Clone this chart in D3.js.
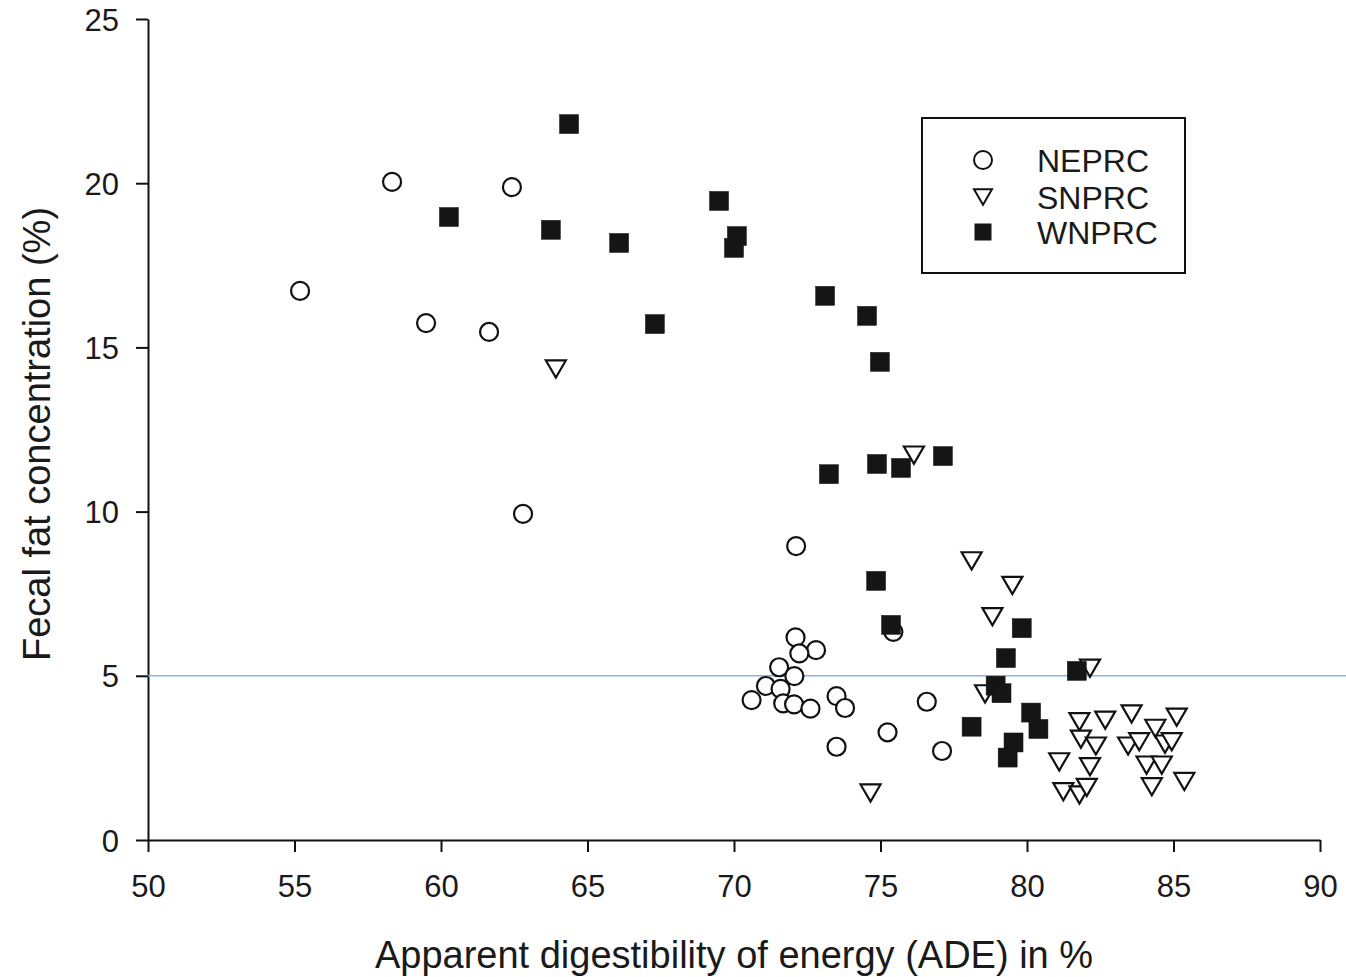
<!DOCTYPE html>
<html><head><meta charset="utf-8">
<script src="https://cdn.jsdelivr.net/npm/d3@7"></script>
<style>body{margin:0;background:#fff}text{font-family:"Liberation Sans",Arial,sans-serif;fill:#1a1a1a}</style>
</head><body><svg id="c" width="1346" height="977"></svg>
<script>
const neprcX=[55.19,58.33,59.49,61.64,62.42,62.80,72.12,72.10,72.80,72.23,71.54,72.06,71.09,71.59,70.60,71.68,72.05,72.61,73.50,73.79,73.50,75.24,76.58,77.10,75.44];
const neprcY=[16.72,20.04,15.74,15.47,19.88,9.93,8.95,6.17,5.78,5.68,5.26,4.99,4.69,4.60,4.26,4.16,4.13,4.00,4.38,4.02,2.84,3.28,4.21,2.71,6.34];
const snprcX=[63.92,76.14,74.66,78.11,79.50,78.82,78.57,82.15,81.79,82.67,83.57,85.11,84.38,81.84,82.35,83.45,83.83,84.71,84.94,81.10,82.15,84.08,84.60,81.24,81.79,82.04,84.26,85.37];
const snprcY=[14.34,11.72,1.43,8.50,7.75,6.80,4.45,5.23,3.60,3.65,3.84,3.74,3.40,3.07,2.86,2.86,2.99,2.92,2.99,2.38,2.23,2.28,2.28,1.47,1.37,1.60,1.62,1.78];
const wnprcX=[64.37,60.27,63.75,66.08,69.49,70.10,70.00,67.30,73.11,74.54,74.98,73.24,74.88,75.70,77.13,74.85,75.36,79.82,79.28,78.93,79.13,80.14,80.39,79.54,79.34,78.11,81.70];
const wnprcY=[21.80,18.97,18.58,18.18,19.46,18.39,18.03,15.71,16.57,15.96,14.56,11.14,11.45,11.33,11.69,7.89,6.55,6.45,5.54,4.70,4.47,3.88,3.38,2.97,2.51,3.45,5.15];
const xTicks=[50,55,60,65,70,75,80,85,90];
const yTicks=[0,5,10,15,20,25];
const refLine=5;
const seriesNames=["NEPRC","SNPRC","WNPRC"];

const svg=d3.select("#c");
const x=d3.scaleLinear().domain([50,90]).range([148,1320]);
const y=d3.scaleLinear().domain([0,25]).range([840,19]);

const ax=svg.append("g").attr("transform","translate(0,840)").call(d3.axisBottom(x).tickValues(xTicks).tickSize(12).tickSizeOuter(0));
const ay=svg.append("g").attr("transform","translate(148,0)").call(d3.axisLeft(y).tickValues(yTicks).tickSize(12).tickSizeOuter(0));
[ax,ay].forEach(a=>{a.selectAll("path,line").attr("stroke","#111").attr("stroke-width",2);a.selectAll("text").style("font-size","31px").attr("fill","#1a1a1a");});
ax.selectAll("text").attr("y",0).attr("dy",null).attr("transform","translate(0,57)");
ay.selectAll("text").attr("x",-29).attr("dy","0.36em");

svg.append("line").attr("x1",x(50)).attr("x2",1346).attr("y1",y(refLine)).attr("y2",y(refLine)).attr("stroke","#86b6e0").attr("stroke-width",1.5);

const g=svg.append("g");
const tri=(s)=>`M${-s/2},${-s*0.43}L${s/2},${-s*0.43}L0,${s*0.43}Z`;
g.selectAll(".n").data(neprcX.map((v,i)=>[v,neprcY[i]])).enter().append("circle")
 .attr("cx",d=>x(d[0])).attr("cy",d=>y(d[1])).attr("r",9).attr("fill","#fff").attr("stroke","#111").attr("stroke-width",2.2);
g.selectAll(".s").data(snprcX.map((v,i)=>[v,snprcY[i]])).enter().append("path")
 .attr("transform",d=>`translate(${x(d[0])},${y(d[1])})`).attr("d",tri(20)).attr("fill","#fff").attr("stroke","#111").attr("stroke-width",2.2).attr("stroke-linejoin","miter");
g.selectAll(".w").data(wnprcX.map((v,i)=>[v,wnprcY[i]])).enter().append("rect")
 .attr("x",d=>x(d[0])-9.5).attr("y",d=>y(d[1])-9.5).attr("width",19).attr("height",19).attr("fill","#151515").attr("stroke","#151515").attr("stroke-width",0.5);

// legend
const lg=svg.append("g");
lg.append("rect").attr("x",922).attr("y",118).attr("width",263).attr("height",155).attr("fill","#fff").attr("stroke","#111").attr("stroke-width",2);
const ly=[160,197,232];
lg.append("circle").attr("cx",983).attr("cy",ly[0]).attr("r",9).attr("fill","#fff").attr("stroke","#111").attr("stroke-width",2);
lg.append("path").attr("transform",`translate(983,${ly[1]})`).attr("d",tri(18)).attr("fill","#fff").attr("stroke","#111").attr("stroke-width",2);
lg.append("rect").attr("x",974.5).attr("y",ly[2]-8.5).attr("width",17).attr("height",17).attr("fill","#151515");
seriesNames.forEach((s,i)=>lg.append("text").attr("x",1037).attr("y",ly[i]).attr("dy","0.36em").style("font-size","32px").text(s));

svg.append("text").attr("x",734).attr("y",968).attr("text-anchor","middle").style("font-size","38px").text("Apparent digestibility of energy (ADE) in %");
svg.append("text").attr("transform","translate(50,434) rotate(-90)").attr("text-anchor","middle").style("font-size","38px").text("Fecal fat concentration (%)");
</script></body></html>
